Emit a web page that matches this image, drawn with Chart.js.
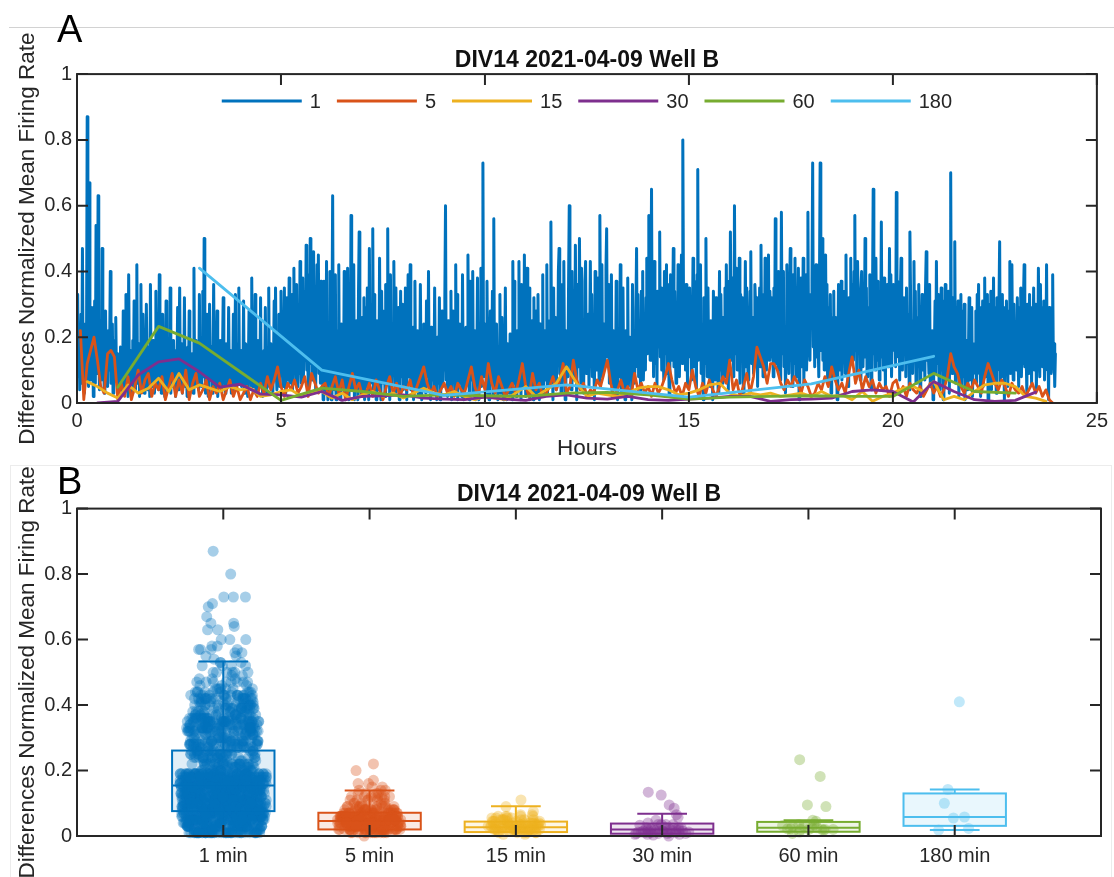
<!DOCTYPE html>
<html>
<head>
<meta charset="utf-8">
<title>DIV14 2021-04-09 Well B</title>
<script src="https://cdn.jsdelivr.net/npm/chart.js@4.4.1/dist/chart.umd.min.js"></script>
<style>
  html, body { margin: 0; padding: 0; background: #fff; }
  #page { position: relative; width: 1114px; height: 877px; overflow: hidden;
          font-family: 'Liberation Sans', Arial, Helvetica, sans-serif; }
  #rule { position: absolute; left: 9px; top: 27px; width: 1105px; height: 0; border-top: 1px solid #d2d2d2; }
  #frameB { position: absolute; left: 10px; top: 465px; width: 1100px; height: 430px; border: 1px solid #ececec; }
  canvas { position: absolute; left: 0; }
  .panel-tag { position: absolute; font-size: 38px; line-height: 1; color: #000; }
</style>
</head>
<body>
<div id="page">
  <div id="rule"></div>
  <div id="frameB"></div>
  <canvas id="chartA" width="1114" height="464" style="top:0"></canvas>
  <canvas id="chartB" width="1114" height="413" style="top:464px"></canvas>
  <div class="panel-tag" style="left:57px; top:10px">A</div>
  <div class="panel-tag" style="left:57px; top:462px">B</div>
</div>
<script>
// ---------------- data ----------------
const plotTitle = 'DIV14 2021-04-09 Well B';
const yTitle = 'Differences Normalized Mean Firing Rate';
const seriesLabels = ['1', '5', '15', '30', '60', '180'];
const binMinutes = [1, 5, 15, 30, 60, 180];
const seriesColors = ['#0072BD', '#D95319', '#EDB120', '#7E2F8E', '#77AC30', '#4DBEEE'];
const hourTicks = [0, 5, 10, 15, 20, 25];
const rateTicks = [0, 0.2, 0.4, 0.6, 0.8, 1];
const categoryLabels = ['1 min', '5 min', '15 min', '30 min', '60 min', '180 min'];

// differences between consecutive 1-minute bins, one row per hour
const diff1min = [
.33,.08,.21,.04,.15,.27,.06,.47,.11,.19,.03,.24,.09,.16,.87,.12,.05,.67,.18,.07,.29,.10,.22,.02,.14,.31,.06,.54,.17,.09,.63,.20,.04,.13,.25,.07,.47,.11,.19,.03,.16,.28,.08,.12,.05,.22,.10,.17,.40,.06,.14,.24,.03,.11,.19,.07,.26,.09,.15,.04,
.02,.10,.05,.17,.07,.13,.03,.28,.09,.04,.15,.33,.06,.11,.02,.39,.08,.16,.05,.12,.03,.19,.07,.31,.10,.04,.14,.42,.06,.09,.18,.02,.13,.36,.05,.08,.27,.11,.03,.15,.06,.30,.09,.04,.12,.17,.02,.36,.07,.10,.05,.19,.12,.03,.14,.34,.06,.09,.16,.04,
.39,.07,.15,.03,.11,.27,.05,.13,.02,.09,.31,.06,.12,.04,.17,.08,.35,.03,.10,.14,.05,.19,.07,.11,.02,.16,.09,.29,.04,.13,.35,.06,.10,.18,.03,.12,.07,.32,.05,.14,.09,.02,.17,.08,.28,.04,.11,.06,.15,.10,.03,.41,.07,.13,.19,.05,.09,.16,.04,.33,
.10,.18,.05,.13,.34,.08,.50,.14,.03,.11,.27,.06,.02,.15,.30,.07,.09,.17,.03,.12,.36,.08,.04,.16,.10,.28,.02,.09,.14,.05,.19,.11,.04,.15,.32,.07,.10,.03,.18,.09,.13,.05,.29,.08,.06,.16,.03,.12,.07,.27,.04,.11,.33,.05,.14,.08,.18,.35,.06,.12,
.16,.05,.12,.08,.31,.03,.10,.18,.06,.14,.02,.11,.28,.07,.15,.04,.38,.12,.05,.17,.09,.33,.03,.13,.07,.19,.04,.11,.08,.32,.06,.14,.02,.10,.16,.05,.29,.08,.03,.15,.11,.35,.05,.09,.18,.06,.13,.03,.12,.31,.07,.35,.10,.04,.16,.08,.27,.05,.13,.34,
.09,.21,.05,.15,.35,.10,.03,.18,.32,.07,.13,.38,.06,.17,.09,.33,.04,.14,.41,.11,.20,.07,.36,.05,.16,.23,.09,.43,.12,.06,.21,.38,.08,.18,.34,.13,.48,.10,.22,.05,.39,.17,.50,.12,.33,.07,.20,.46,.11,.35,.04,.18,.42,.14,.45,.09,.32,.06,.37,.15,
.13,.01,.37,.07,.18,.03,.43,.11,.01,.21,.06,.40,.15,.01,.23,.63,.09,.17,.04,.39,.01,.14,.22,.08,.42,.02,.16,.01,.24,.10,.19,.05,.40,.12,.01,.22,.15,.41,.07,.01,.18,.11,.57,.04,.20,.14,.42,.01,.16,.08,.25,.13,.01,.33,.52,.06,.17,.02,.26,.10,
.07,.32,.01,.15,.29,.05,.35,.11,.01,.47,.17,.06,.26,.13,.53,.03,.33,.09,.16,.01,.25,.08,.19,.04,.44,.12,.01,.34,.14,.28,.06,.18,.02,.36,.10,.20,.53,.07,.15,.01,.39,.13,.05,.21,.09,.43,.16,.03,.35,.11,.19,.06,.29,.01,.14,.34,.08,.30,.18,.04,
.17,.06,.35,.11,.01,.20,.39,.08,.15,.42,.04,.19,.10,.23,.01,.13,.37,.05,.18,.09,.22,.02,.14,.07,.36,.12,.01,.18,.05,.24,.10,.16,.03,.31,.08,.13,.40,.06,.19,.01,.23,.11,.07,.17,.04,.35,.09,.15,.01,.20,.12,.06,.32,.01,.14,.08,.28,.05,.16,.10,
.32,.60,.07,.16,.02,.25,.12,.18,.04,.34,.01,.14,.28,.08,.17,.03,.42,.11,.33,.01,.15,.24,.06,.13,.19,.02,.39,.10,.01,.17,.05,.23,.13,.08,.45,.16,.01,.37,.11,.19,.07,.40,.03,.15,.22,.01,.18,.09,.38,.14,.01,.21,.12,.41,.05,.17,.73,.08,.24,.11,
.16,.03,.37,.10,.19,.01,.15,.28,.06,.13,.34,.02,.56,.09,.18,.04,.24,.12,.01,.17,.08,.33,.03,.14,.26,.07,.01,.16,.11,.35,.05,.01,.18,.09,.13,.03,.21,.08,.15,.01,.43,.12,.37,.06,.17,.02,.22,.10,.14,.43,.04,.19,.01,.36,.09,.16,.05,.45,.13,.02,
.11,.41,.04,.17,.35,.01,.15,.08,.25,.13,.01,.32,.06,.16,.28,.03,.12,.33,.09,.01,.24,.14,.05,.18,.39,.02,.10,.22,.07,.15,.42,.03,.17,.11,.25,.06,.55,.13,.19,.01,.35,.08,.16,.26,.04,.18,.12,.40,.47,.09,.21,.03,.15,.36,.07,.43,.14,.01,.22,.17,
.19,.08,.37,.60,.13,.21,.04,.40,.16,.10,.23,.07,.48,.15,.01,.36,.18,.11,.50,.20,.06,.41,.14,.22,.03,.17,.37,.43,.09,.19,.13,.27,.05,.18,.43,.12,.33,.08,.24,.16,.01,.40,.15,.20,.10,.38,.17,.06,.57,.22,.13,.42,.08,.19,.24,.11,.16,.41,.53,.14,
.17,.36,.06,.20,.13,.39,.02,.16,.22,.09,.18,.04,.37,.11,.01,.20,.15,.08,.42,.14,.03,.19,.35,.10,.16,.01,.22,.07,.18,.38,.05,.13,.20,.09,.17,.01,.36,.12,.19,.06,.15,.28,.47,.11,.33,.08,.25,.16,.03,.34,.14,.40,.07,.18,.24,.10,.32,.44,.15,.27,
.57,.32,.13,.27,.65,.16,.36,.08,.43,.19,.12,.26,.05,.34,.17,.29,.52,.14,.35,.10,.25,.18,.07,.40,.15,.21,.42,.09,.36,.16,.02,.20,.39,.13,.18,.25,.47,.11,.34,.17,.06,.26,.14,.42,.19,.08,.23,.16,.45,.12,.80,.33,.15,.27,.10,.36,.18,.05,.29,.32,
.35,.14,.28,.07,.19,.44,.11,.37,.16,.21,.04,.39,.71,.13,.22,.18,.42,.09,.24,.15,.01,.32,.26,.12,.50,.17,.08,.35,.14,.19,.05,.25,.11,.18,.01,.34,.16,.27,.07,.32,.13,.24,.03,.17,.40,.10,.33,.15,.06,.26,.18,.12,.35,.08,.42,.16,.20,.04,.37,.14,
.52,.19,.13,.38,.17,.08,.60,.22,.15,.41,.10,.24,.18,.44,.06,.33,.27,.14,.32,.02,.25,.16,.43,.11,.35,.18,.07,.28,.15,.34,.46,.12,.19,.26,.09,.17,.36,.30,.13,.32,.05,.27,.16,.35,.11,.48,.18,.25,.08,.33,.14,.44,.19,.10,.26,.17,.45,.13,.34,.28,
.32,.14,.29,.08,.35,.17,.56,.12,.26,.19,.10,.40,.16,.36,.07,.58,.21,.15,.40,.11,.22,.03,.18,.42,.13,.25,.09,.32,.47,.14,.23,.05,.39,.17,.12,.44,.19,.08,.24,.15,.41,.01,.21,.16,.38,.11,.18,.44,.06,.22,.14,.39,.10,.19,.58,.16,.25,.13,.33,.30,
.37,.73,.17,.30,.11,.35,.42,.14,.28,.19,.08,.37,.73,.16,.22,.50,.13,.39,.10,.20,.45,.15,.36,.06,.18,.29,.12,.33,.03,.26,.17,.11,.34,.08,.26,.15,.19,.01,.17,.36,.10,.20,.13,.37,.07,.18,.28,.14,.34,.09,.45,.16,.23,.05,.32,.27,.12,.44,.18,.36,
.19,.13,.40,.57,.16,.24,.09,.43,.32,.15,.26,.07,.34,.40,.17,.11,.25,.18,.50,.14,.35,.08,.29,.19,.12,.39,.16,.04,.24,.32,.65,.15,.22,.10,.44,.18,.37,.13,.28,.07,.33,.17,.55,.14,.23,.10,.38,.19,.05,.30,.16,.36,.11,.20,.47,.15,.39,.08,.22,.18,
.36,.16,.30,.11,.64,.19,.37,.14,.28,.07,.34,.44,.17,.10,.26,.32,.15,.29,.08,.35,.18,.12,.27,.04,.52,.33,.16,.25,.09,.19,.43,.14,.34,.06,.26,.17,.11,.36,.19,.02,.28,.15,.33,.10,.25,.18,.07,.35,.46,.13,.20,.16,.09,.36,.05,.19,.14,.22,.01,.17,
.16,.31,.09,.43,.18,.12,.33,.04,.29,.15,.35,.10,.19,.01,.31,.14,.36,.07,.28,.17,.11,.34,.03,.30,.70,.16,.09,.32,.13,.19,.49,.06,.29,.15,.10,.31,.02,.18,.12,.33,.05,.28,.14,.08,.30,.01,.17,.11,.19,.04,.13,.32,.07,.16,.10,.29,.02,.15,.09,.18,
.12,.28,.06,.33,.14,.36,.09,.17,.02,.29,.11,.31,.05,.16,.38,.08,.19,.13,.33,.01,.30,.10,.15,.34,.04,.18,.12,.38,.07,.29,.14,.03,.32,.10,.17,.30,.49,.06,.19,.13,.33,.08,.16,.01,.29,.11,.31,.15,.05,.28,.12,.43,.09,.18,.42,.14,.07,.30,.11,.17,
.19,.10,.32,.14,.05,.29,.16,.35,.08,.18,.12,.31,.42,.11,.28,.15,.03,.30,.17,.09,.33,.13,.19,.06,.29,.16,.35,.10,.14,.30,.04,.19,.12,.41,.17,.08,.36,.15,.29,.11,.18,.31,.07,.28,.14,.42,.10,.17,.01,.29,.13,.19,.09,.16,.39,.12,.18,.05,.15
];

// 5-minute bins, one row per hour
const diff5min = [
.22,.01,.12,.16,.20,.13,.05,.03,.15,.16,.14,.01,
.06,.02,.08,.01,.05,.10,.03,.07,.09,.02,.06,.04,
.08,.01,.05,.09,.02,.07,.03,.10,.01,.06,.09,.02,
.04,.07,.01,.05,.03,.06,.01,.04,.07,.02,.05,.01,
.03,.05,.01,.04,.02,.06,.03,.08,.04,.07,.11,.05,
.02,.06,.04,.07,.03,.05,.08,.02,.09,.06,.03,.05,
.06,.02,.05,.08,.03,.07,.01,.05,.09,.04,.06,.02,
.03,.06,.02,.07,.04,.01,.05,.08,.03,.06,.02,.05,
.04,.07,.02,.05,.08,.11,.06,.03,.05,.02,.04,.06,
.03,.05,.02,.06,.04,.03,.07,.11,.05,.02,.08,.04,
.12,.06,.03,.08,.05,.02,.04,.06,.03,.07,.12,.05,
.02,.09,.04,.06,.02,.03,.05,.08,.04,.07,.12,.03,
.05,.13,.07,.04,.06,.02,.04,.03,.07,.05,.09,.13,
.06,.02,.04,.07,.03,.05,.02,.09,.04,.06,.03,.05,
.02,.06,.03,.05,.08,.12,.07,.03,.05,.02,.06,.04,
.10,.05,.02,.06,.03,.07,.04,.02,.05,.08,.06,.13,
.04,.07,.02,.05,.09,.03,.08,.17,.14,.11,.06,.12,
.12,.10,.06,.04,.07,.05,.08,.06,.03,.07,.05,.02,
.03,.06,.04,.08,.05,.11,.07,.04,.06,.03,.09,.14,
.06,.10,.04,.08,.05,.07,.03,.06,.04,.05,.02,.06,
.07,.03,.05,.02,.06,.04,.03,.05,.02,.04,.06,.03,
.05,.02,.04,.08,.15,.11,.09,.05,.03,.06,.04,.07,
.05,.03,.08,.12,.09,.06,.04,.07,.05,.02,.06,.04,
.03,.05,.02,.04,.06,.03,.05,.02,.04,.01,0
];

// 15-minute bins, one row per hour
const diff15min = [
.065,.05,.03,.015,
.055,.03,.045,.075,
.035,.09,.04,.055,
.045,.035,.05,.04,
.045,.02,.025,.035,
.04,.02,.03,.035,
.015,.03,.01,.025,
.035,.02,.03,.015,
.03,.045,.03,.025,
.035,.02,.01,.02,
.015,.01,.03,.05,
.02,.04,.06,.11,
.06,.02,.03,.025,
.02,.03,.045,.05,
.05,.04,.025,.03,
.04,.055,.06,.03,
.02,.03,.025,.03,
.02,.025,.03,.02,
.035,.02,.025,.01,
.035,.005,.02,.03,
.045,.05,.035,.065,
.01,.02,.01,.035,
.055,.06,.06,.05,
.02,.015,.005
];

// 30-minute bins
const diff30min = [
0,.005,.085,.125,.134,.095,.048,.057,.027,.025,.018,.035,.008,.02,.022,.025,
.015,.012,.01,.018,.012,.008,.02,.025,.015,.012,.02,.01,.008,.012,.015,.02,
.02,.005,.01,.012,.015,.035,.04,.035,.003,.065,.035,.01,.005,.008,.033
];

// 60-minute bins
const diff60min = [
.048,.233,.182,.095,.008,.045,.035,.02,.025,.022,.02,.03,
.032,.025,.012,.018,.02,.022,.02,.02,.09,.035,.03
];

// 180-minute bins
const diff180min = [.41, .10, .023, .055, .018, .058, .142];

// box summaries per bin size (quartiles and whisker ends)
const boxQ1       = [0.076, 0.020, 0.012, 0.007, 0.013, 0.031];
const boxMedian   = [0.154, 0.046, 0.027, 0.020, 0.025, 0.058];
const boxQ3       = [0.261, 0.071, 0.044, 0.038, 0.043, 0.130];
const whiskerLow  = [0, 0, 0, 0, 0, 0.018];
const whiskerHigh = [0.533, 0.139, 0.091, 0.068, 0.048, 0.142];

const seriesValues = [diff1min, diff5min, diff15min, diff30min, diff60min, diff180min];

// ---------------- helpers ----------------
const FONT = "'Liberation Sans', Arial, Helvetica, sans-serif";
const INK = '#262626';
Chart.defaults.font.family = FONT;
Chart.defaults.color = INK;

function tint(hex, a) {
  const n = parseInt(hex.slice(1), 16);
  return `rgba(${n >> 16},${(n >> 8) & 255},${n & 255},${a})`;
}

// spread points sideways, wider where values are dense
function swarmX(values, center, half) {
  const bin = 0.02, counts = {};
  values.forEach(v => { const b = Math.floor(v / bin); counts[b] = (counts[b] || 0) + 1; });
  const maxC = Math.max(...Object.values(counts));
  return values.map((v, i) => {
    const d = counts[Math.floor(v / bin)] / maxC;
    const u = ((i + 1) * 0.6180339887) % 1;
    return center + (2 * u - 1) * half * (0.45 + 0.55 * Math.sqrt(d));
  });
}

function rateAxis() {
  return {
    type: 'linear', min: 0, max: 1,
    afterBuildTicks: s => { s.ticks = rateTicks.map(v => ({ value: v })); },
    ticks: { font: { size: 20 }, padding: 5, color: INK, callback: v => String(v) },
    grid: { display: false, drawTicks: false },
    border: { display: false },
    title: { display: true, text: yTitle, font: { size: 22.5 }, color: INK, padding: { top: 14, bottom: 0 } },
    afterFit: s => { s.width = 77; }
  };
}

function titleOptions(padTop) {
  return { display: true, text: plotTitle, color: '#111', fullSize: false,
           font: { size: 23, weight: 'bold' }, padding: { top: padTop, bottom: 0 } };
}

// axes box with inward tick marks on all four sides
const axesFrame = {
  id: 'axesFrame',
  afterDatasetsDraw(chart, args, opts) {
    const { ctx, chartArea: a, scales: { x, y } } = chart;
    const L = opts.tickLength;
    ctx.save();
    ctx.strokeStyle = INK;
    ctx.lineWidth = 2;
    ctx.beginPath();
    x.ticks.forEach(t => {
      const px = x.getPixelForValue(t.value);
      ctx.moveTo(px, a.bottom); ctx.lineTo(px, a.bottom - L);
      ctx.moveTo(px, a.top); ctx.lineTo(px, a.top + L);
    });
    y.ticks.forEach(t => {
      const py = y.getPixelForValue(t.value);
      ctx.moveTo(a.left, py); ctx.lineTo(a.left + L, py);
      ctx.moveTo(a.right, py); ctx.lineTo(a.right - L, py);
    });
    ctx.stroke();
    ctx.strokeRect(a.left, a.top, a.right - a.left, a.bottom - a.top);
    ctx.restore();
  }
};

// horizontal legend drawn inside the top of the plot box
const insideLegend = {
  id: 'insideLegend',
  afterDraw(chart, args, opts) {
    const { ctx, chartArea: a } = chart;
    const sets = chart.data.datasets;
    ctx.save();
    ctx.font = `${opts.fontSize}px ${FONT}`;
    const widths = sets.map(ds => ctx.measureText(ds.label).width);
    const total = widths.reduce((s, w) => s + opts.lineLength + opts.textGap + w, 0) + opts.itemGap * (sets.length - 1);
    let x = (a.left + a.right) / 2 - total / 2;
    const y = a.top + opts.offsetY;
    ctx.textBaseline = 'middle';
    ctx.textAlign = 'left';
    sets.forEach((ds, i) => {
      ctx.strokeStyle = ds.borderColor;
      ctx.lineWidth = opts.lineWidth;
      ctx.beginPath(); ctx.moveTo(x, y); ctx.lineTo(x + opts.lineLength, y); ctx.stroke();
      x += opts.lineLength + opts.textGap;
      ctx.fillStyle = INK;
      ctx.fillText(ds.label, x, y + 1.5);
      x += widths[i] + opts.itemGap;
    });
    ctx.restore();
  }
};

// boxes, medians and whiskers under the jittered points
const boxSummary = {
  id: 'boxSummary',
  beforeDatasetsDraw(chart, args, opts) {
    const { ctx, scales: { x, y } } = chart;
    ctx.save();
    ctx.lineWidth = 2;
    categoryLabels.forEach((_, i) => {
      const c = i + 1, col = seriesColors[i];
      const x0 = x.getPixelForValue(c - opts.boxHalf), x1 = x.getPixelForValue(c + opts.boxHalf);
      const xc = x.getPixelForValue(c);
      const c0 = x.getPixelForValue(c - opts.capHalf), c1 = x.getPixelForValue(c + opts.capHalf);
      const yQ1 = y.getPixelForValue(boxQ1[i]), yQ3 = y.getPixelForValue(boxQ3[i]);
      const yMed = y.getPixelForValue(boxMedian[i]);
      const yLo = y.getPixelForValue(whiskerLow[i]), yHi = y.getPixelForValue(whiskerHigh[i]);
      ctx.strokeStyle = col;
      ctx.beginPath();
      ctx.moveTo(xc, yQ3); ctx.lineTo(xc, yHi);
      ctx.moveTo(c0, yHi); ctx.lineTo(c1, yHi);
      ctx.moveTo(xc, yQ1); ctx.lineTo(xc, yLo);
      ctx.moveTo(c0, yLo); ctx.lineTo(c1, yLo);
      ctx.stroke();
      ctx.fillStyle = tint(col, 0.12);
      ctx.fillRect(x0, yQ3, x1 - x0, yQ1 - yQ3);
      ctx.strokeRect(x0, yQ3, x1 - x0, yQ1 - yQ3);
      ctx.beginPath(); ctx.moveTo(x0, yMed); ctx.lineTo(x1, yMed); ctx.stroke();
    });
    ctx.restore();
  }
};

// ---------------- panel A: time course ----------------
const lineDatasets = seriesValues.map((vals, k) => ({
  label: seriesLabels[k],
  data: vals.map((v, i) => ({ x: (i + 1) * binMinutes[k] / 60, y: v })),
  borderColor: seriesColors[k],
  backgroundColor: seriesColors[k],
  borderWidth: k === 0 ? 3 : 2.8,
  borderJoinStyle: 'round',
  borderCapStyle: 'round',
  pointRadius: 0,
  tension: 0,
  order: seriesValues.length - k
}));

new Chart(document.getElementById('chartA'), {
  type: 'line',
  data: { datasets: lineDatasets },
  options: {
    responsive: false, animation: false, devicePixelRatio: 1,
    events: [],
    layout: { padding: { left: 0, right: 13, top: 0, bottom: 0 } },
    plugins: {
      legend: { display: false },
      tooltip: { enabled: false },
      title: titleOptions(46.5),
      axesFrame: { tickLength: 11 },
      insideLegend: { fontSize: 20, lineLength: 80, textGap: 8, itemGap: 16, lineWidth: 3, offsetY: 27 }
    },
    scales: {
      x: {
        type: 'linear', min: 0, max: 25,
        afterBuildTicks: s => { s.ticks = hourTicks.map(v => ({ value: v })); },
        ticks: { font: { size: 20 }, padding: 6, maxRotation: 0, autoSkip: false, color: INK },
        grid: { display: false, drawTicks: false },
        border: { display: false },
        title: { display: true, text: 'Hours', font: { size: 22.5 }, color: INK, padding: { top: 0, bottom: 2 } },
        afterFit: s => { s.height = 61; }
      },
      y: rateAxis()
    }
  },
  plugins: [axesFrame, insideLegend]
});

// ---------------- panel B: distributions ----------------
const spreadHalf = [0.3, 0.22, 0.2, 0.19, 0.19, 0.16];
const pointDatasets = seriesValues.map((vals, k) => {
  const xs = swarmX(vals, k + 1, spreadHalf[k]);
  return {
    label: categoryLabels[k],
    data: vals.map((v, i) => ({ x: xs[i], y: v })),
    backgroundColor: tint(seriesColors[k], 0.35),
    borderWidth: 0,
    pointRadius: 5.5,
    clip: false
  };
});

new Chart(document.getElementById('chartB'), {
  type: 'scatter',
  data: { datasets: pointDatasets },
  options: {
    responsive: false, animation: false, devicePixelRatio: 1,
    events: [],
    layout: { padding: { left: 0, right: 13, top: 0, bottom: 0 } },
    plugins: {
      legend: { display: false },
      tooltip: { enabled: false },
      title: titleOptions(17),
      axesFrame: { tickLength: 11 },
      boxSummary: { boxHalf: 0.35, capHalf: 0.17 }
    },
    scales: {
      x: {
        type: 'linear', min: 0, max: 7,
        afterBuildTicks: s => { s.ticks = categoryLabels.map((_, i) => ({ value: i + 1 })); },
        ticks: { font: { size: 20 }, padding: 8, maxRotation: 0, autoSkip: false, color: INK,
                 callback: v => categoryLabels[v - 1] },
        grid: { display: false, drawTicks: false },
        border: { display: false },
        afterFit: s => { s.height = 41; }
      },
      y: rateAxis()
    }
  },
  plugins: [boxSummary, axesFrame]
});
</script>
</body>
</html>
